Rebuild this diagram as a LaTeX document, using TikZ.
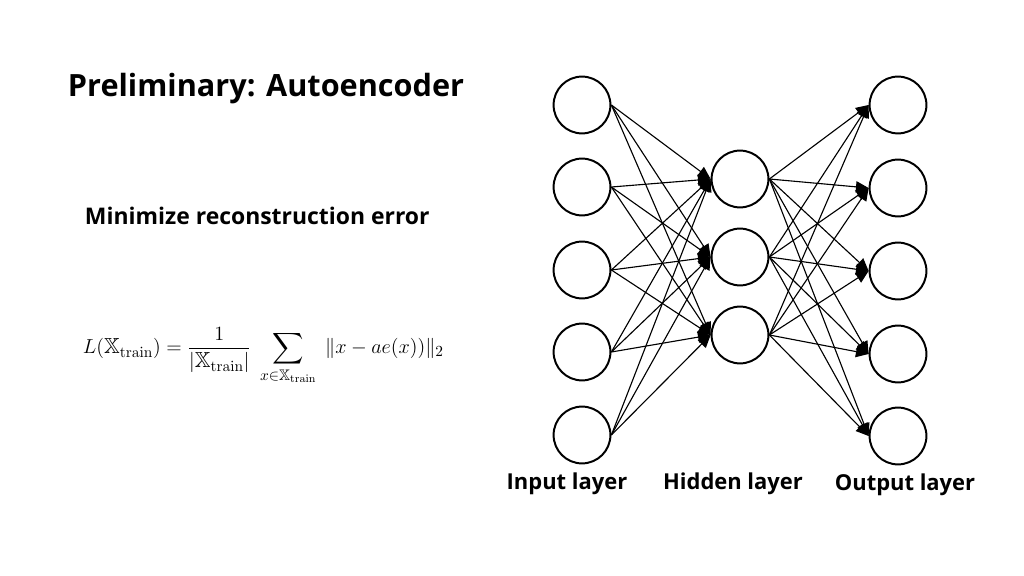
\documentclass[tikz,border=0pt]{standalone}
\usepackage{amsmath,amssymb}
\usepackage[no-math]{fontspec}
\setmainfont{Open Sans}
\usetikzlibrary{arrows.meta}

\tikzset{
  neuron/.style={circle, draw, line width=1.4pt, minimum size=1.42cm, inner sep=0pt},
  link/.style={line width=0.8pt, -{Triangle[length=9pt,width=8pt]}},
  layername/.style={font=\fontsize{15.6}{18}\selectfont\bfseries}
}

\begin{document}
\begin{tikzpicture}[x=0.025cm, y=-0.025cm]
\useasboundingbox (0,0) rectangle (1024,576);

% left side
\node [anchor=west, font=\fontsize{21.8}{26}\selectfont\bfseries] (title) at (63,89) {Preliminary: Autoencoder};
\node [anchor=west, font=\fontsize{16.3}{20}\selectfont\bfseries] (goal) at (80,216) {Minimize reconstruction error};
\node [anchor=west, font=\fontsize{15.5}{18}\selectfont] (loss) at (78,356)
  {$L(\mathbb{X}_{\mathrm{train}}) = \dfrac{1}{|\mathbb{X}_{\mathrm{train}}|}\;\displaystyle\sum_{x\in\mathbb{X}_{\mathrm{train}}}\; \|x - ae(x))\|_2$};

% network
\foreach \name/\y in {i1/105, i2/187, i3/270, i4/352, i5/435}
  \node [neuron] (\name) at (582,\y) {};
\foreach \name/\y in {h1/179, h2/257, h3/335}
  \node [neuron] (\name) at (740,\y) {};
\foreach \name/\y in {o1/105, o2/188, o3/271, o4/354, o5/436}
  \node [neuron] (\name) at (898,\y) {};

\foreach \a in {i1,i2,i3,i4,i5}
  \foreach \b in {h1,h2,h3}
    \draw [link] (\a.east) -- (\b.west);
\foreach \a in {h1,h2,h3}
  \foreach \b in {o1,o2,o3,o4,o5}
    \draw [link] (\a.east) -- (\b.west);

\node [layername] (inlabel) at (567,484) {Input layer};
\node [layername] (hidlabel) at (733,484) {Hidden layer};
\node [layername] (outlabel) at (905,485) {Output layer};
\end{tikzpicture}
\end{document}
